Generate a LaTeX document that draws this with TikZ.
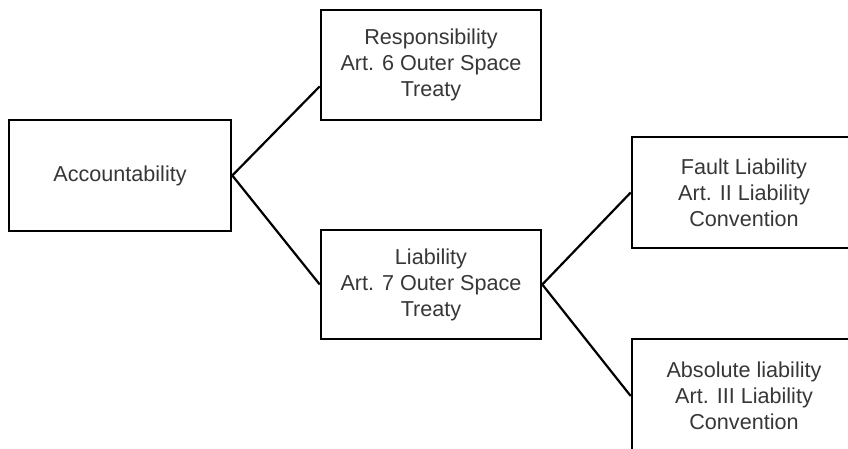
\documentclass[tikz,border=0pt]{standalone}
\usepackage{fontspec}
\setmainfont{Liberation Sans}
\usepackage{tikz}
\usetikzlibrary{calc}
\definecolor{txtgray}{RGB}{55,55,55}

\begin{document}
\begin{tikzpicture}[
  x=1pt, y=-1pt,
  every node/.style={font=\fontsize{21.6}{26}\selectfont},
  box/.style={draw=black, line width=2.6pt, fill=white, text=txtgray, minimum width=220pt, minimum height=110pt, align=center, inner sep=0pt},
  link/.style={draw=black, line width=2.2pt}
]
\clip (0,0) rectangle (848,449);
\fill[white] (0,0) rectangle (848,449);

\node[box, minimum width=222pt, minimum height=111pt] (acc) at (120,175.5) {Accountability};
\node[box] (resp) at (431,65) {Responsibility\\Art. 6 Outer Space\\Treaty};
\node[box, minimum height=109pt] (liab) at (431,284.5) {Liability\\Art. 7 Outer Space\\Treaty};
\node[box, minimum width=224pt, minimum height=111pt] (fault) at (744,192.5) {Fault Liability\\Art. II Liability\\Convention};
\node[box, minimum width=224pt, minimum height=114pt] (abs) at (744,396) {Absolute liability\\Art. III Liability\\Convention};

\draw[link] (acc.east) -- ($(resp.south west)!0.31!(resp.north west)$);
\draw[link] (acc.east) -- (liab.west);
\draw[link] (liab.east) -- (fault.west);
\draw[link] (liab.east) -- (abs.west);
\end{tikzpicture}
\end{document}
